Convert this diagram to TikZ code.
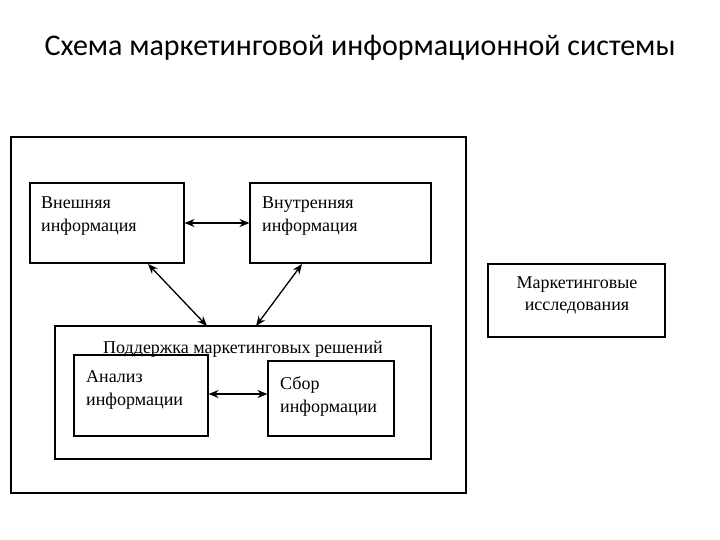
\documentclass[tikz,border=0pt]{standalone}
\usepackage{fontspec}
\setmainfont{Liberation Serif}
\newfontfamily\titlefont{Carlito}
\usetikzlibrary{arrows.meta}
\tikzset{
  box/.style={draw=black, line width=1.1pt, rectangle, inner sep=0pt},
  lbl/.style={font=\fontsize{18}{23}\selectfont, align=left, inner sep=0pt, anchor=base west},
  clbl/.style={font=\fontsize{18}{22}\selectfont, align=center, inner sep=0pt},
  link/.style={line width=1.3pt, {Stealth[length=10pt,width=8pt]}-{Stealth[length=10pt,width=8pt]}},
}
\begin{document}
\begin{tikzpicture}[x=1pt,y=-1pt]
\useasboundingbox[fill=white] (0,0) rectangle (720,540);
\node[font=\titlefont\fontsize{30}{36}\selectfont, inner sep=0pt] (title) at (360,48) {Схема маркетинговой информационной системы};
% outer frame
\node[box, minimum width=455pt, minimum height=356pt] (outer) at (238.5,315) {};
% boxes
\node[box, minimum width=154pt, minimum height=80pt] (ext) at (107,223) {};
\node[box, minimum width=181pt, minimum height=80pt] (int) at (340.5,223) {};
\node[box, minimum width=376pt, minimum height=133pt] (sup) at (243,392.5) {};
\node[box, minimum width=134pt, minimum height=81pt] (ana) at (141,395.5) {};
\node[box, minimum width=126pt, minimum height=75pt] (col) at (331,398.5) {};
\node[box, minimum width=177pt, minimum height=73pt] (res) at (576.5,300.5) {};
% texts
\node[lbl] (extT) at (41,231) {Внешняя\\информация};
\node[lbl] (intT) at (262,231) {Внутренняя\\информация};
\node[clbl, anchor=base] (supT) at (243,353) {Поддержка маркетинговых решений};
\node[lbl] (anaT) at (86,405) {Анализ\\информации};
\node[lbl] (colT) at (280,412) {Сбор\\информации};
\node[clbl] (resT) at (577,295) {Маркетинговые\\исследования};
% connectors
\coordinate (e1) at (148,264);
\coordinate (s1) at (207,326);
\coordinate (i1) at (302,264);
\coordinate (s2) at (256,326);
\draw[link] (ext.east |- 0,223) -- (int.west |- 0,223);
\draw[link] (e1) -- (s1);
\draw[link] (i1) -- (s2);
\draw[link] (ana.east |- 0,394) -- (col.west |- 0,394);
\end{tikzpicture}
\end{document}
